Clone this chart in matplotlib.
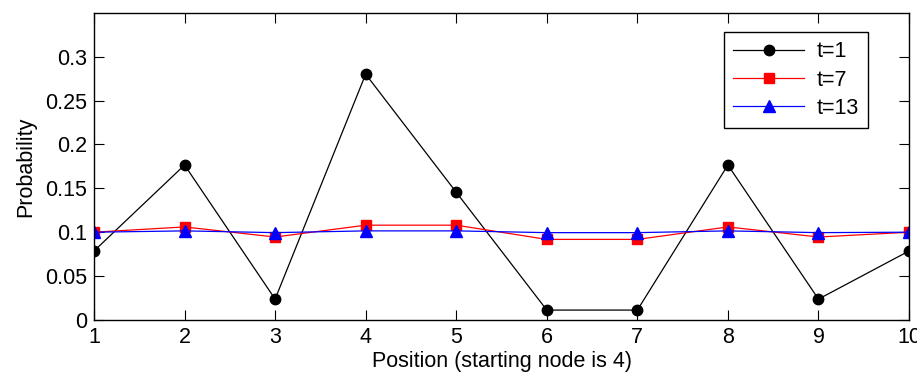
import numpy as np
import matplotlib
matplotlib.use("Agg")
import matplotlib.pyplot as plt

# data
positions = [1, 2, 3, 4, 5, 6, 7, 8, 9, 10]
p_t1 = [0.0786, 0.1765, 0.0238, 0.2800, 0.1455, 0.0113, 0.0113, 0.1765, 0.0238, 0.0786]
p_t7 = [0.1000, 0.1060, 0.0945, 0.1080, 0.1080, 0.0918, 0.0918, 0.1060, 0.0945, 0.1000]
p_t13 = [0.1000, 0.1015, 0.0995, 0.1015, 0.1015, 0.0995, 0.0995, 0.1015, 0.0995, 0.1000]
y_ticks = [0, 0.05, 0.1, 0.15, 0.2, 0.25, 0.3]
y_tick_labels = ["0", "0.05", "0.1", "0.15", "0.2", "0.25", "0.3"]

plt.rcParams["font.family"] = ["Liberation Sans", "DejaVu Sans"]
plt.rcParams["font.size"] = 15.5

fig = plt.figure(figsize=(9.17, 3.77), dpi=100)
ax = fig.add_axes([0.1025, 0.1512, 0.8888, 0.8151])

ax.plot(positions, p_t1, "k-o", lw=0.9, ms=7.5, label="t=1")
ax.plot(positions, p_t7, "r-s", lw=0.9, ms=7.5, label="t=7")
ax.plot(positions, p_t13, "b-^", lw=0.9, ms=8, label="t=13")

ax.set_xlim(1, 10)
ax.set_ylim(0, 0.35)
ax.set_xticks(positions)
ax.set_yticks(y_ticks)
ax.set_yticklabels(y_tick_labels)
ax.tick_params(direction="in", top=True, right=True, length=7, width=0.8)
ax.tick_params(axis="x", pad=5)
ax.tick_params(axis="y", pad=5)
for s in ax.spines.values():
    s.set_linewidth(1.0)

ax.set_xlabel("Position (starting node is 4)", labelpad=2)
ax.set_ylabel("Probability", labelpad=6)

leg = ax.legend(loc="upper right", bbox_to_anchor=(0.950, 0.938), fancybox=False,
                edgecolor="black", framealpha=1, handlelength=3.3,
                borderpad=0.45, labelspacing=0.33, handletextpad=0.55,
                borderaxespad=0)
leg.get_frame().set_linewidth(1.0)

fig.savefig("out.png", dpi=100)
